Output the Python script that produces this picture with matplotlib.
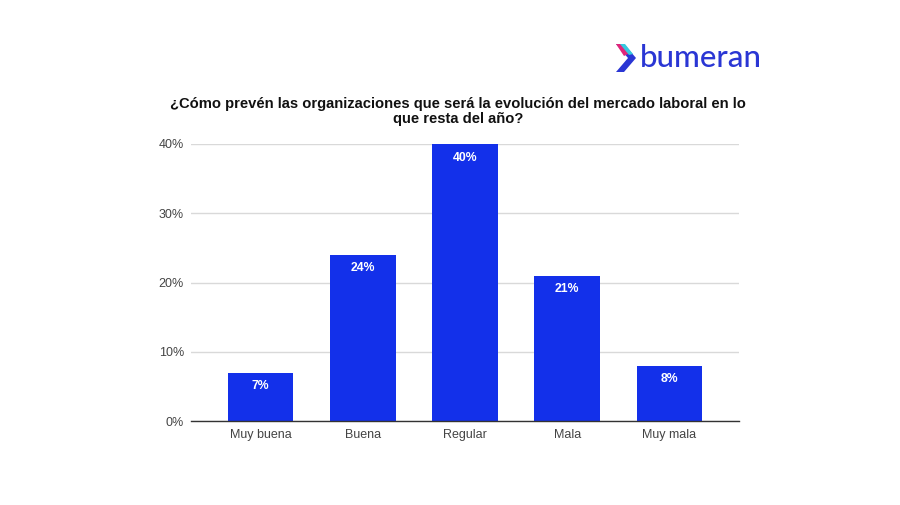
import matplotlib
matplotlib.use("Agg")
import matplotlib.pyplot as plt
from matplotlib.patches import Polygon

categories = ["Muy buena", "Buena", "Regular", "Mala", "Muy mala"]
values = [7, 24, 40, 21, 8]
yticks = [0, 10, 20, 30, 40]
ytick_labels = ["0%", "10%", "20%", "30%", "40%"]
title = "¿Cómo prevén las organizaciones que será la evolución del mercado laboral en lo\nque resta del año?"

plt.rcParams['font.family'] = ['Liberation Sans', 'DejaVu Sans']

fig = plt.figure(figsize=(9, 5.05), dpi=100)
ax = fig.add_axes([191/900, 1-421/505, (739-191)/900, (421-144)/505])

bar_color = "#1330EA"
x = range(len(categories))
bars = ax.bar(x, values, width=0.645, color=bar_color, zorder=3)
for xi, v in zip(x, values):
    ax.text(xi, v - 1.1, f"{v}%", ha="center", va="top", color="white",
            fontsize=8.8, fontweight="bold", zorder=4)

ax.set_xlim(-0.68, 4.68)
ax.set_ylim(0, 40)
ax.set_yticks(yticks)
ax.set_yticklabels(ytick_labels)
ax.set_xticks(list(x))
ax.set_xticklabels(categories)
ax.tick_params(axis="both", length=0, labelsize=9, colors="#444444")
ax.tick_params(axis="y", pad=5)
ax.tick_params(axis="x", pad=6)
ax.grid(axis="y", color="#d9d9d9", linewidth=1, zorder=0)
for s in ["top", "right", "left"]:
    ax.spines[s].set_visible(False)
ax.spines["bottom"].set_color("#333333")
ax.spines["bottom"].set_linewidth(1)
ax.spines["bottom"].set_zorder(5)

fig.text(458/900, 1-111.5/505, title, ha="center", va="center", fontsize=10.6,
         fontweight="bold", color="#111111", linespacing=1.05)

# logo
fig.text(640/900, 1-58/505, "bumeran", ha="left", va="center", fontsize=22.5,
         color="#2A36D4", family="Lato", fontweight="medium")
def px(xp, yp):
    return (xp/900, 1-yp/505)
fig.patches.append(Polygon([px(616, 44), px(624, 44), px(636, 58), px(624, 72), px(616, 72), px(628, 58)],
                           closed=True, transform=fig.transFigure, facecolor="#2A36D4", edgecolor="none"))
fig.patches.append(Polygon([px(616, 44), px(622, 44), px(630, 53), px(624, 56)],
                           closed=True, transform=fig.transFigure, facecolor="#E0267A", edgecolor="none"))
fig.patches.append(Polygon([px(620, 44), px(625, 44), px(633, 54), px(629, 55)],
                           closed=True, transform=fig.transFigure, facecolor="#35C9E0", edgecolor="none"))

fig.savefig("out.png", dpi=100, facecolor="white")
